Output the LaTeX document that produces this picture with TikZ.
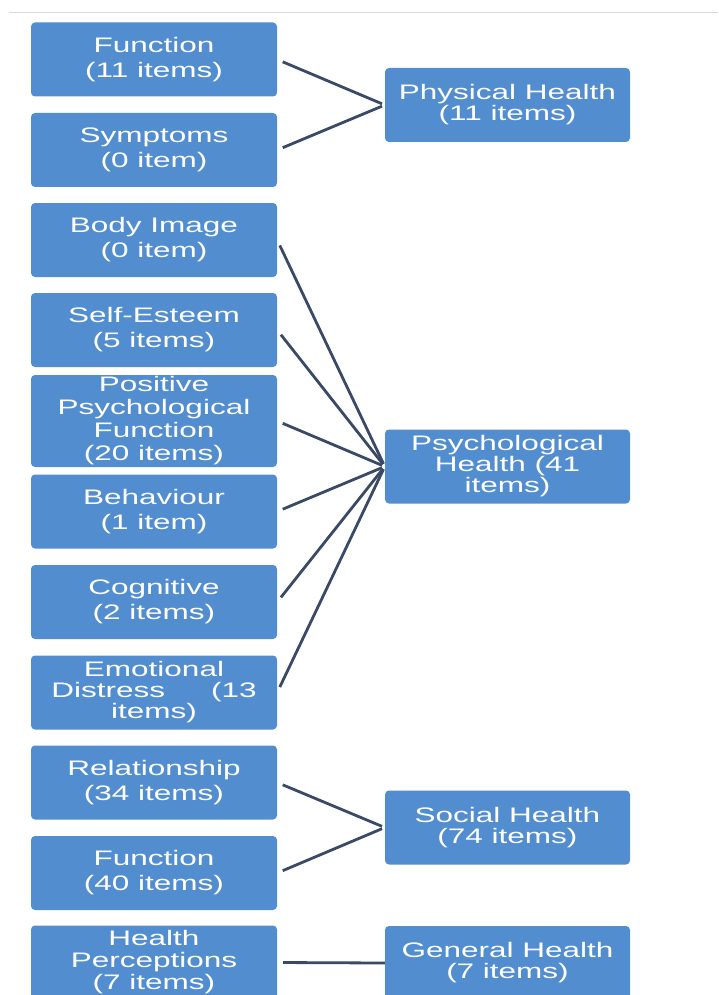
\documentclass[tikz,border=0pt]{standalone}
\usepackage{fontspec}
\newfontfamily\boxfont[FakeStretch=1.5]{Liberation Sans}
\definecolor{boxblue}{RGB}{82,142,207}
\definecolor{linkgray}{RGB}{58,74,102}
\tikzset{
  item/.style={fill=boxblue, rounded corners=4pt, text=white, inner sep=0pt,
    minimum width=246pt, minimum height=74pt, align=center,
    font=\boxfont\fontsize{21}{25}\selectfont},
  tight/.style={font=\boxfont\fontsize{21}{21}\selectfont},
  link/.style={draw=linkgray, line width=2.8pt, shorten <=6pt, shorten >=3pt}
}
\begin{document}
\begin{tikzpicture}[x=1pt, y=-1pt]
    \clip (0,0) rectangle (718,995);
    \fill[white] (0,0) rectangle (718,995);
    \draw[black!15, line width=0.8pt] (9,12) -- (718,12);

    % sub-domains
    \node[item] (fn)   at (154,59.5) {Function\\(11 items)};
    \node[item] (sym)  at (154,150)  {Symptoms\\(0 item)};
    \node[item] (body) at (154,240)  {Body Image\\(0 item)};
    \node[item] (self) at (154,330)  {Self-Esteem\\(5 items)};
    \node[item, tight, minimum height=92pt, font=\boxfont\fontsize{21}{23}\selectfont] (pos) at (154,421)
      {Positive\\Psychological\\Function\\(20 items)};
    \node[item] (beh)  at (154,511.5) {Behaviour\\(1 item)};
    \node[item] (cog)  at (154,602)  {Cognitive\\(2 items)};
    \node[item, tight] (emo)  at (154,692.5) {Emotional\\Distress\hspace{46pt}(13\hspace*{16pt}\\items)};
    \node[item] (rel)  at (154,782.5) {Relationship\\(34 items)};
    \node[item] (sfn)  at (154,873)  {Function\\(40 items)};
    \node[item, tight, font=\boxfont\fontsize{21}{22}\selectfont] (hp) at (154,962.5)
      {Health\\Perceptions\\(7 items)};

    % domains
    \node[item, tight, minimum width=245pt] (phys) at (507.5,105)   {Physical Health\\(11 items)};
    \node[item, tight, minimum width=245pt] (psy)  at (507.5,466.5) {Psychological\\Health (41\\items)};
    \node[item, tight, minimum width=245pt] (soc)  at (507.5,827.5) {Social Health\\(74 items)};
    \node[item, tight, minimum width=245pt] (gen)  at (507.5,963)   {General Health\\(7 items)};

    \foreach \s in {fn, sym}
      \draw[link] (\s.east) -- (phys.west);
    \foreach \s in {body, self, pos, beh, cog, emo}
      \draw[link] (\s.east) -- (psy.west);
    \foreach \s in {rel, sfn}
      \draw[link] (\s.east) -- (soc.west);
    \draw[link, shorten >=0pt] (hp.east) -- (gen.west);
  \end{tikzpicture}
\end{document}
